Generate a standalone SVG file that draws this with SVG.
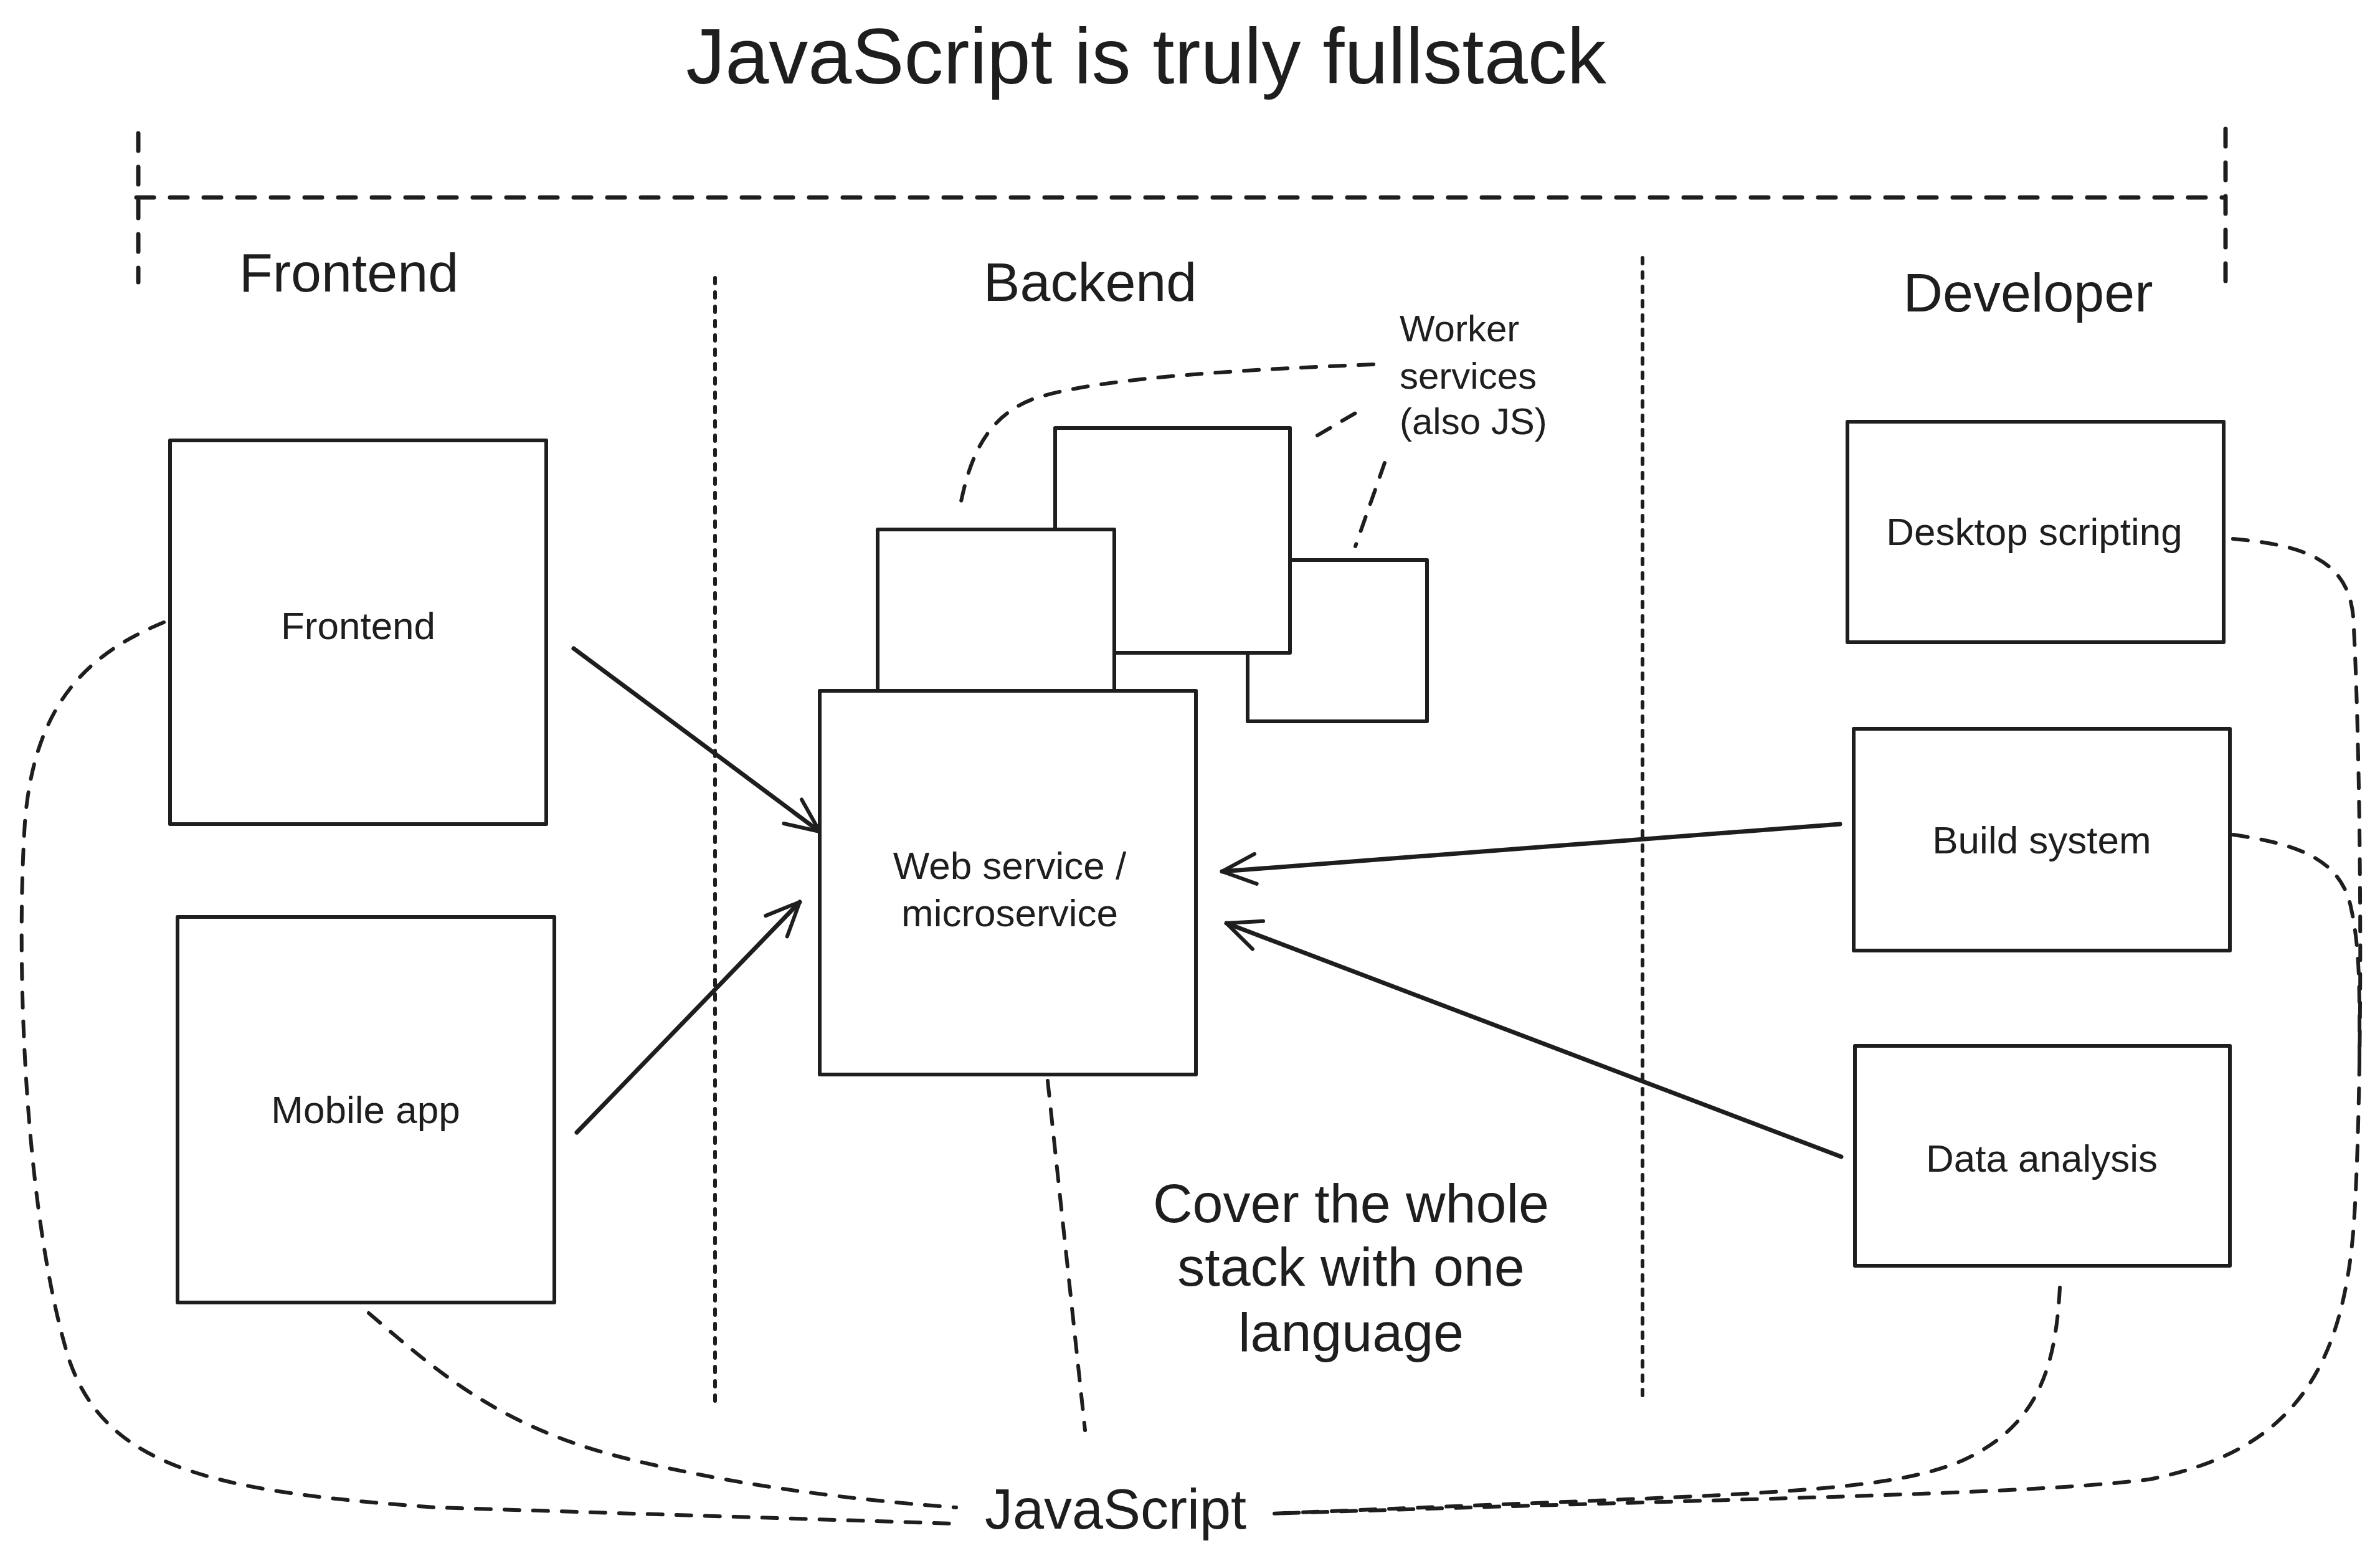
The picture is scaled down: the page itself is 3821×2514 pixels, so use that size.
<svg xmlns="http://www.w3.org/2000/svg" width="3821" height="2514" viewBox="0 0 3821 2514">
<style>
.bg{fill:#ffffff}
.box{fill:#ffffff;stroke:#1e1e1e;stroke-width:6;stroke-linejoin:round}
.t{font-family:"Liberation Sans","Noto Sans",sans-serif;fill:#1e1e1e}
.lbl{font-size:62px;text-anchor:middle}
.sec{font-size:88px;text-anchor:middle}
.dash{fill:none;stroke:#1e1e1e;stroke-width:6;stroke-dasharray:24 22;stroke-linecap:round}
.brk{fill:none;stroke:#1e1e1e;stroke-width:7;stroke-dasharray:28 26;stroke-linecap:round}
.dot{fill:none;stroke:#1e1e1e;stroke-width:6;stroke-dasharray:9 14;stroke-linecap:round}
.arr{fill:none;stroke:#1e1e1e;stroke-width:7;stroke-linecap:round;marker-end:url(#ah)}
</style>
<defs>
<marker id="ah" viewBox="-70 -35 80 70" markerWidth="80" markerHeight="70" refX="0" refY="0" orient="auto" markerUnits="userSpaceOnUse">
<path d="M-54,-24 L0,0 L-54,24" fill="none" stroke="#1e1e1e" stroke-width="6" stroke-linecap="round" stroke-linejoin="round"/>
</marker>
</defs>
<rect class="bg" x="0" y="0" width="3821" height="2514"/>

<g id="title"><text class="t" x="1840" y="134" font-size="126" text-anchor="middle">JavaScript is truly fullstack</text></g>

<g id="sections">
<path class="brk" d="M219,317 L3570,317"/>
<path class="brk" d="M222,214 L222,453"/>
<path class="brk" d="M3573,207 L3573,456"/>
<path class="dot" d="M1148,446 L1148,2254"/>
<path class="dot" d="M2637,414 L2637,2247"/>
<text class="t sec" x="560" y="468">Frontend</text>
<text class="t sec" x="1750" y="483">Backend</text>
<text class="t sec" x="3256" y="500">Developer</text>
</g>

<g id="connectors">
<path class="dash" d="M263,999 C140,1050 55,1130 40,1320 C25,1550 40,1950 110,2180 C170,2360 350,2395 700,2420 L1535,2446"/>
<path class="dash" d="M592,2108 C700,2200 800,2290 1000,2340 C1200,2390 1400,2410 1535,2420"/>
<path class="dash" d="M1682,1735 L1742,2296"/>
<path class="dash" d="M3585,865 C3700,875 3770,900 3778,990 C3790,1200 3795,1700 3780,1950 C3765,2200 3680,2330 3450,2375 C3250,2400 2800,2405 2040,2430"/>
<path class="dash" d="M3585,1340 C3690,1355 3760,1380 3775,1460 C3790,1530 3788,1600 3788,1720"/>
<path class="dash" d="M3307,2067 C3300,2200 3270,2290 3150,2345 C3020,2400 2800,2398 2040,2430"/>
<path class="dash" d="M2205,585 C1950,595 1750,610 1660,640 C1580,670 1555,740 1540,820"/>
<path class="dash" d="M2115,699 L2178,662"/>
<path class="dash" d="M2223,743 L2176,877"/>
<path class="arr" d="M921,1041 L1316,1335"/>
<path class="arr" d="M926,1818 L1284,1448"/>
<path class="arr" d="M2954,1323 L1962,1399"/>
<path class="arr" d="M2956,1857 L1969,1482" stroke-width="5"/>
</g>

<g id="node-frontend"><rect class="box" x="273" y="707" width="604" height="616"/><text class="t lbl" x="575" y="1026">Frontend</text></g>
<g id="node-mobile"><rect class="box" x="285" y="1472" width="605" height="619"/><text class="t lbl" x="587" y="1803">Mobile app</text></g>
<g id="node-worker-c"><rect class="box" x="2003" y="899" width="288" height="259"/></g>
<g id="node-worker-b"><rect class="box" x="1694" y="687" width="377" height="361"/></g>
<g id="node-worker-a"><rect class="box" x="1409" y="850" width="380" height="259"/></g>
<g id="node-webservice"><rect class="box" x="1316" y="1109" width="604" height="616"/><text class="t lbl" x="1621" y="1411">Web service /</text><text class="t lbl" x="1621" y="1487">microservice</text></g>
<g id="label-worker"><text class="t" font-size="60" x="2247" y="548">Worker</text><text class="t" font-size="60" x="2247" y="624">services</text><text class="t" font-size="60" x="2247" y="697">(also JS)</text></g>
<g id="node-desktop"><rect class="box" x="2966" y="677" width="604" height="354"/><text class="t lbl" x="3266" y="875">Desktop scripting</text></g>
<g id="node-build"><rect class="box" x="2976" y="1170" width="604" height="356"/><text class="t lbl" x="3278" y="1370">Build system</text></g>
<g id="node-data"><rect class="box" x="2978" y="1679" width="602" height="353"/><text class="t lbl" x="3278" y="1881">Data analysis</text></g>
<g id="label-cover"><text class="t sec" x="2169" y="1962">Cover the whole</text><text class="t sec" x="2169" y="2064">stack with one</text><text class="t sec" x="2169" y="2169">language</text></g>
<g id="label-js"><text class="t" font-size="90" text-anchor="middle" x="1791" y="2454">JavaScript</text></g>
</svg>
